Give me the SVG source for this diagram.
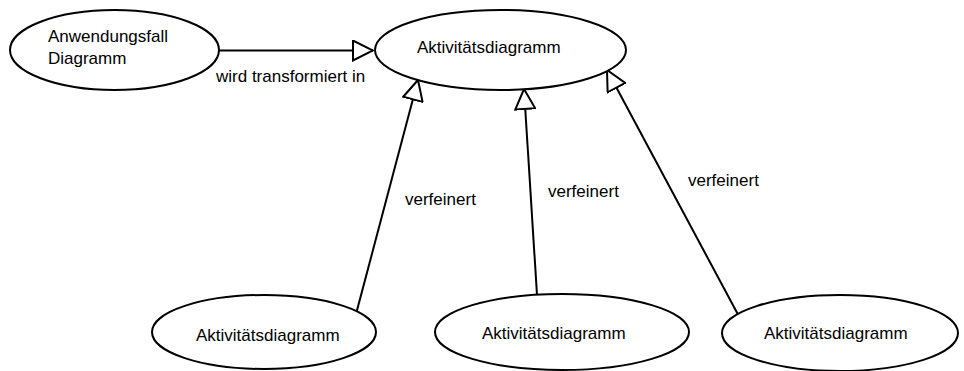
<svg xmlns="http://www.w3.org/2000/svg" width="964" height="371" viewBox="0 0 964 371">
  <style>
    .node ellipse { fill: #fff; stroke: #000; stroke-width: 2; }
    text { font-family: "Liberation Sans", Arial, sans-serif; font-size: 17px; fill: #000; }
    .edge { fill: none; stroke: #000; stroke-width: 2; }
  </style>
  <defs>
    <!-- open triangle head for generalisation-style arrows -->
    <marker id="openTri" markerUnits="userSpaceOnUse" markerWidth="22" markerHeight="22" viewBox="-1 -1 22 22" refX="20" refY="10" orient="auto">
      <path d="M0,0 L20,10 L0,20 Z" fill="#fff" stroke="#000" stroke-width="2" stroke-linejoin="miter"/>
    </marker>
  </defs>
  <rect width="964" height="371" fill="#fff"/>

  <g id="connectors">
    <line class="edge" x1="219" y1="50.5" x2="373" y2="50.5" marker-end="url(#openTri)"/>
    <text x="216" y="82">wird transformiert in</text>
    <line class="edge" x1="356.7" y1="311.5" x2="418" y2="80" marker-end="url(#openTri)"/>
    <text x="405" y="205">verfeinert</text>
    <line class="edge" x1="537" y1="295" x2="524" y2="89" marker-end="url(#openTri)"/>
    <text x="548" y="197">verfeinert</text>
    <line class="edge" x1="738" y1="314.5" x2="607" y2="70" marker-end="url(#openTri)"/>
    <text x="688" y="186">verfeinert</text>
  </g>

  <g id="use-case-diagram" class="node">
    <ellipse cx="114.5" cy="50" rx="104.5" ry="40"/>
    <text x="48" y="42">Anwendungsfall</text>
    <text x="48" y="64">Diagramm</text>
  </g>

  <g id="activity-main" class="node">
    <ellipse cx="500.5" cy="50" rx="125.5" ry="40"/>
    <text x="417" y="53">Aktivitätsdiagramm</text>
  </g>

  <g id="activity-left" class="node">
    <ellipse cx="264" cy="332" rx="112" ry="37"/>
    <text x="196" y="341">Aktivitätsdiagramm</text>
  </g>

  <g id="activity-middle" class="node">
    <ellipse cx="562" cy="332" rx="127" ry="38"/>
    <text x="482" y="339">Aktivitätsdiagramm</text>
  </g>

  <g id="activity-right" class="node">
    <ellipse cx="840" cy="333" rx="118" ry="38"/>
    <text x="764" y="339">Aktivitätsdiagramm</text>
  </g>
</svg>
